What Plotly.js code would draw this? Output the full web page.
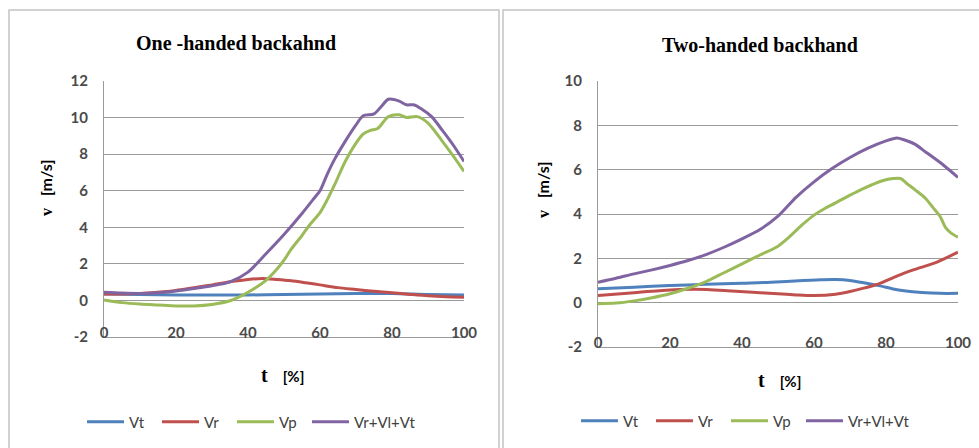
<!DOCTYPE html>
<html>
<head>
<meta charset="utf-8">
<script src="https://cdn.plot.ly/plotly-3.0.1.min.js"></script>
<style>html,body{margin:0;padding:0;background:#fff;overflow:hidden;}#chart{width:979px;height:448px;}</style>
</head>
<body>
<div id="chart"></div>
<script>
// ---- Data: One-handed backhand ----
const oneVtT = [0,10,20,30,40,50,60,70,80,90,100];
const oneVt  = [0.35,0.32,0.30,0.30,0.30,0.32,0.35,0.38,0.38,0.33,0.30];
const oneVrT = [0,5,10,15,20,25,30,35,40,44,48,52,56,60,65,70,75,80,85,90,95,100];
const oneVr  = [0.35,0.35,0.38,0.45,0.55,0.70,0.85,1.02,1.15,1.20,1.15,1.08,0.97,0.85,0.70,0.60,0.50,0.42,0.33,0.25,0.20,0.18];
const oneVpT = [0,5,10,15,20,25,30,35,40,45,48,50,52,55,57,60,62,64,67,70,72,74,76,79,82,84,87,90,94,97,100];
const oneVp  = [0.02,-0.12,-0.20,-0.25,-0.30,-0.30,-0.22,-0.02,0.45,1.10,1.70,2.20,2.80,3.55,4.10,4.80,5.50,6.30,7.60,8.60,9.10,9.30,9.40,10.05,10.15,10.00,10.05,9.70,8.70,7.90,7.05];
const oneSumT = [0,5,10,15,20,25,30,35,40,45,50,55,58,60,62,64,67,70,72,75,77,79,82,84,86,88,91,94,97,100];
const oneSum  = [0.45,0.40,0.38,0.42,0.52,0.65,0.80,1.02,1.55,2.55,3.60,4.75,5.50,6.00,6.90,7.70,8.70,9.60,10.10,10.20,10.60,11.00,10.90,10.70,10.70,10.50,10.05,9.30,8.50,7.60];

// ---- Data: Two-handed backhand ----
const twoVtT = [0,10,20,30,40,48,57,62,66,70,73,78,82,85,90,95,100];
const twoVt  = [0.63,0.70,0.77,0.83,0.88,0.92,1.00,1.03,1.04,1.00,0.92,0.77,0.62,0.54,0.46,0.42,0.42];
const twoVrT = [0,10,17,27,36,43,50,55,60,66,70,73,78,83,88,94,100];
const twoVr  = [0.32,0.45,0.54,0.60,0.54,0.47,0.40,0.35,0.32,0.38,0.50,0.62,0.85,1.20,1.50,1.82,2.28];
const twoVpT = [0,5,10,15,20,25,30,35,40,45,50,53,57,60,63,66,70,74,79,82,84,86,88,91,93,95,96.5,98,100];
const twoVp  = [-0.05,-0.02,0.08,0.22,0.40,0.65,0.95,1.35,1.75,2.15,2.55,2.95,3.55,3.95,4.25,4.50,4.85,5.17,5.50,5.60,5.60,5.35,5.10,4.70,4.30,3.90,3.40,3.15,2.95];
const twoSumT = [0,5,10,15,20,25,30,35,40,45,50,55,60,65,70,75,80,83,85,88,91,96,100];
const twoSum  = [0.92,1.10,1.30,1.48,1.68,1.90,2.17,2.50,2.88,3.30,3.90,4.75,5.45,6.05,6.55,6.97,7.30,7.43,7.35,7.15,6.80,6.20,5.65];

const seriesNames = ['Vt','Vr','Vp','Vr+Vl+Vt'];
const seriesColors = ['#4F81BD','#C0504D','#9BBB59','#8064A2'];
const xTicks = [0,20,40,60,80,100];
const yTicksOne = [-2,0,2,4,6,8,10,12];
const yTicksTwo = [-2,0,2,4,6,8,10];

const W = 979, H = 448;
const oneData = [[oneVtT,oneVt],[oneVrT,oneVr],[oneVpT,oneVp],[oneSumT,oneSum]];
const twoData = [[twoVtT,twoVt],[twoVrT,twoVr],[twoVpT,twoVp],[twoSumT,twoSum]];

const traces = [];
oneData.forEach((d,i)=>traces.push({x:d[0],y:d[1],name:seriesNames[i],type:'scatter',mode:'lines',
  line:{color:seriesColors[i],width:3,shape:'spline',smoothing:0.8},xaxis:'x',yaxis:'y',legend:(i<3?'legend':'legend3')}));
twoData.forEach((d,i)=>traces.push({x:d[0],y:d[1],name:seriesNames[i],type:'scatter',mode:'lines',
  line:{color:seriesColors[i],width:3,shape:'spline',smoothing:0.8},xaxis:'x2',yaxis:'y2',legend:(i<3?'legend2':'legend4')}));

const sans = 'Lato, "Open Sans", sans-serif';
const serif = '"Liberation Serif", "Times New Roman", serif';
const tickFont = {family:sans, size:15, color:'#4a4a4a', weight:'bold'};
const gridC = '#9a9a9a';
function xa(dom, anchor){return {domain:dom, anchor:anchor, range:[0,100], tickvals:xTicks, showgrid:false, zeroline:false,
  showline:true, linecolor:gridC, linewidth:1, ticks:'', tickfont:tickFont, ticklabelstandoff:-18, fixedrange:true};}
function ya(dom, anchor, range, vals){return {domain:dom, anchor:anchor, range:range, tickvals:vals, ticktext:vals.map(v=>String(v)),
  showgrid:true, gridcolor:gridC, gridwidth:1,
  zeroline:false, showline:true, linecolor:gridC, linewidth:1, ticks:'', tickfont:tickFont, ticklabelstandoff:12, fixedrange:true};}

const legendBase = {orientation:'h', yanchor:'middle', xanchor:'left', font:{family:sans,size:15,color:'#404040'},
  bgcolor:'rgba(0,0,0,0)', itemwidth:37, tracegroupgap:0};
const legendFixed = Object.assign({}, legendBase, {entrywidth:23, entrywidthmode:'pixels'});

const sansQ = sans.replace(/"/g,"'");
const layout = {
  width:W, height:H, margin:{l:0,r:0,t:0,b:0}, paper_bgcolor:'#fff', plot_bgcolor:'#fff',
  xaxis: xa([104/W, 464/W], 'y'),
  yaxis: ya([1-337/H, 1-81/H], 'x', [-2,12], yTicksOne),
  xaxis2: xa([598/W, 958/W], 'y2'),
  yaxis2: ya([1-347/H, 1-81/H], 'x2', [-2,10], yTicksTwo),
  legend: Object.assign({}, legendFixed, {x:82/W, y:1-422/H}),
  legend3: Object.assign({}, legendBase, {x:307/W, y:1-422/H}),
  legend2: Object.assign({}, legendFixed, {x:576/W, y:1-421/H}),
  legend4: Object.assign({}, legendBase, {x:801/W, y:1-421/H}),
  shapes:[
    {type:'rect', xref:'paper', yref:'paper', x0:9/W, x1:499/W, y0:-0.05, y1:1-10/H, line:{color:'#c4c4c4',width:1.5}},
    {type:'rect', xref:'paper', yref:'paper', x0:503/W, x1:1.02, y0:-0.05, y1:1-10/H, line:{color:'#c4c4c4',width:1.5}}
  ],
  annotations:[
    {text:'<b>One -handed backahnd</b>', xref:'paper', yref:'paper', x:236/W, y:1-43/H, showarrow:false, xanchor:'center', yanchor:'middle',
      font:{family:serif,size:20,color:'#000'}},
    {text:'<b>Two-handed backhand</b>', xref:'paper', yref:'paper', x:760/W, y:1-45/H, showarrow:false, xanchor:'center', yanchor:'middle',
      font:{family:serif,size:20,color:'#000'}},
    {text:'<b>v</b>   <span style="font-family:'+sansQ+'"><b>[m/s]</b></span>', xref:'paper', yref:'paper', x:45/W, y:1-188/H, textangle:-90,
      showarrow:false, xanchor:'center', yanchor:'middle', font:{family:serif,size:16,color:'#000'}},
    {text:'<b>v</b>   <span style="font-family:'+sansQ+'"><b>[m/s]</b></span>', xref:'paper', yref:'paper', x:543/W, y:1-190/H, textangle:-90,
      showarrow:false, xanchor:'center', yanchor:'middle', font:{family:serif,size:16,color:'#000'}},
    {text:'<b>t</b>   <span style="font-family:'+sansQ+';font-size:15px"><b>[%]</b></span>', xref:'paper', yref:'paper', x:282/W, y:1-375/H,
      showarrow:false, xanchor:'center', yanchor:'middle', font:{family:serif,size:20,color:'#000'}},
    {text:'<b>t</b>   <span style="font-family:'+sansQ+';font-size:15px"><b>[%]</b></span>', xref:'paper', yref:'paper', x:779/W, y:1-380/H,
      showarrow:false, xanchor:'center', yanchor:'middle', font:{family:serif,size:20,color:'#000'}}
  ]
};
Plotly.newPlot('chart', traces, layout, {displayModeBar:false, staticPlot:true});
</script>
</body>
</html>
